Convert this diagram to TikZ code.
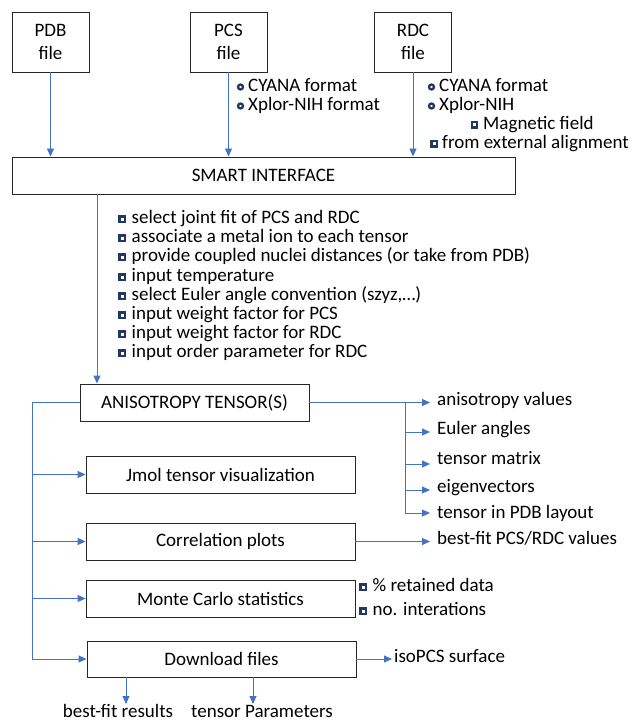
\documentclass[tikz,border=0pt]{standalone}
\usepackage{fontspec}
\setmainfont{Carlito}
\usetikzlibrary{arrows.meta}
\definecolor{arrowblue}{HTML}{4472C4}
\definecolor{navy}{HTML}{1F3864}
\begin{document}
\begin{tikzpicture}[x=1pt,y=-1pt,
  box/.style={draw=black!85, line width=0.9pt, inner sep=0pt, align=center,
    font=\fontsize{19}{23}\selectfont},
  conn/.style={draw=arrowblue, line width=0.9pt},
  arr/.style={conn, -{Triangle[length=8pt,width=7pt]}},
  lbl/.style={anchor=west, inner sep=0pt, font=\fontsize{19}{23}\selectfont,
    text height=13pt, text depth=4pt},
  clbl/.style={lbl, anchor=center},
  sqb/.style={draw=navy, fill=white, line width=2.4pt, minimum size=5.4pt,
    inner sep=0pt, rectangle},
  cib/.style={draw=navy, fill=white, line width=2.3pt, minimum size=5pt,
    inner sep=0pt, circle},
]
\useasboundingbox (0,0) rectangle (632,722);

% input boxes
\node[box, minimum width=77pt, minimum height=60pt] (pdb) at (50.5,42) {PDB\\file};
\node[box, minimum width=77pt, minimum height=60pt] (pcs) at (228.5,42) {PCS\\file};
\node[box, minimum width=77pt, minimum height=60pt] (rdc) at (413,42) {RDC\\file};
\node[box, minimum width=503pt, minimum height=37pt] (smart) at (263.5,175.5) {SMART INTERFACE};

\draw[arr] (pdb.south) -- (pdb.south |- smart.north);
\draw[arr] (pcs.south) -- (pcs.south |- smart.north);
\draw[arr] (rdc.south) -- (rdc.south |- smart.north);

% PCS notes
\node[cib] (pb1) at (240.5,87) {};
\node[lbl] (pt1) at (248,87) {CYANA format};
\node[cib] (pb2) at (240.5,106) {};
\node[lbl] (pt2) at (248,106) {Xplor-NIH format};
% RDC notes
\node[cib] (rb1) at (431.5,87) {};
\node[lbl] (rt1) at (439,87) {CYANA format};
\node[cib] (rb2) at (431.5,106) {};
\node[lbl] (rt2) at (439,106) {Xplor-NIH};
\node[sqb] (rb3) at (474.5,125) {};
\node[lbl] (rt3) at (483,125) {Magnetic field};
\node[sqb] (rb4) at (434,144) {};
\node[lbl] (rt4) at (442,144) {from external alignment};

% interface options
\foreach \i/\yy/\tx in {1/219/{select joint fit of PCS and RDC},
  2/238/{associate a metal ion to each tensor},
  3/257/{provide coupled nuclei distances (or take from PDB)},
  4/277/{input temperature},
  5/296/{select Euler angle convention (szyz,…)},
  6/315/{input weight factor for PCS},
  7/334/{input weight factor for RDC},
  8/353/{input order parameter for RDC}}{
  \node[sqb] (lb\i) at (122,\yy) {};
  \node[lbl] (lt\i) at (131.5,\yy) {\tx};
}

% anisotropy
\node[box, minimum width=229pt, minimum height=37pt] (aniso) at (194.5,402.5) {ANISOTROPY TENSOR(S)};
\coordinate (sx) at (97,0);
\draw[arr] (sx |- smart.south) -- (sx |- aniso.north);

\node[box, minimum width=269pt, minimum height=37pt] (jmol) at (220.5,474.5) {Jmol tensor visualization};
\node[box, minimum width=269pt, minimum height=37pt] (corr) at (220.5,541.5) {Correlation plots};
\node[box, minimum width=269pt, minimum height=37pt] (monte) at (220.5,598.5) {Monte Carlo statistics};
\node[box, minimum width=269pt, minimum height=36pt] (down) at (221.5,659) {Download files};

% left bus
\coordinate (bx) at (32,0);
\draw[conn] (aniso.west) -- (aniso.west -| bx) -- (down.west -| bx);
\draw[arr] (jmol.west -| bx) -- (jmol.west);
\draw[arr] (corr.west -| bx) -- (corr.west);
\draw[arr] (monte.west -| bx) -- (monte.west);
\draw[arr] (down.west -| bx) -- (down.west);

% right outputs
\coordinate (rx) at (405,0);
\coordinate (tx) at (430,0);
\node[lbl] (o1) at (437,401) {anisotropy values};
\node[lbl] (o2) at (437,429.5) {Euler angles};
\node[lbl] (o3) at (437,459.5) {tensor matrix};
\node[lbl] (o4) at (437,487.5) {eigenvectors};
\node[lbl] (o5) at (437,513.5) {tensor in PDB layout};
\coordinate (a1) at (0,402.5);
\coordinate (a2) at (0,432);
\coordinate (a3) at (0,464);
\coordinate (a4) at (0,490);
\coordinate (a5) at (0,513);
\draw[conn] (aniso.east) -- (aniso.east -| rx) -- (rx |- a5);
\foreach \k in {1,...,5}{\draw[arr] (rx |- a\k) -- (tx |- a\k);}

\node[lbl] (bf) at (437,540) {best-fit PCS/RDC values};
\draw[arr] (corr.east) -- (corr.east -| tx);

\node[sqb] (mb1) at (363,587) {};
\node[lbl] (mt1) at (372.5,587) {\% retained data};
\node[sqb] (mb2) at (363,611) {};
\node[lbl] (mt2) at (372.5,611) {no. interations};

\node[lbl] (iso) at (394,658) {isoPCS surface};
\draw[arr] (down.east) -- ([xshift=-2pt]down.east -| iso.west);

\node[clbl] (r1) at (118,713) {best-fit results};
\node[clbl] (r2) at (262,713) {tensor Parameters};
\coordinate (d1) at (126,704);
\coordinate (d2) at (253,704);
\draw[arr] (d1 |- down.south) -- (d1);
\draw[arr] (d2 |- down.south) -- (d2);
\end{tikzpicture}
\end{document}
